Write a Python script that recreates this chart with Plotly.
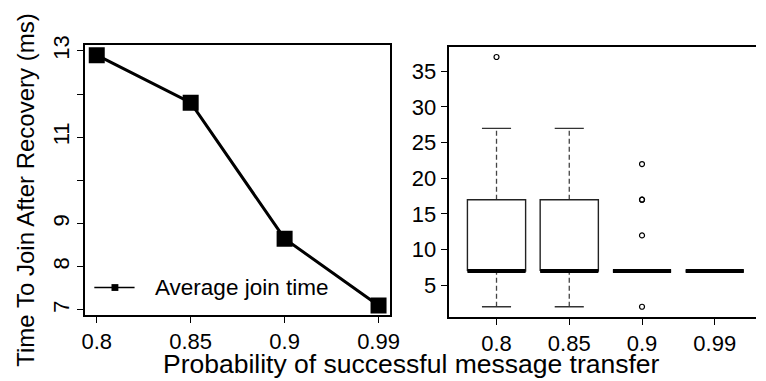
import plotly.graph_objects as go

# Probability of successful message transfer (shared category labels)
probs = ["0.8", "0.85", "0.9", "0.99"]

# Left panel: average join time per probability (ms)
avg_join = [12.9, 11.8, 8.65, 7.1]
series_name = "Average join time"

# Right panel: box-plot summary statistics per probability (ms)
box_low = [2, 2, 7, 7]
box_q1 = [7, 7, 7, 7]
box_med = [7, 7, 7, 7]
box_q3 = [17, 17, 7, 7]
box_high = [27, 27, 7, 7]
outliers = [[37], [], [22, 17, 17, 12, 2], []]

W, H = 766, 381
FONT = "Liberation Sans, Arial, Helvetica, sans-serif"
pos = list(range(1, len(probs) + 1))


def px(x):
    return x / W


def py(y):
    return 1 - y / H


fig = go.Figure()

# ---- left panel: line with square markers
fig.add_trace(go.Scatter(
    x=pos, y=avg_join, mode="lines+markers", name=series_name,
    line=dict(color="black", width=3),
    marker=dict(symbol="square", size=16, color="black"),
    showlegend=False, xaxis="x", yaxis="y",
))

# ---- right panel: boxes built from the summary statistics
half = 0.4
bx, by, mx, my, wx, wy, sx, sy, ox, oy = [], [], [], [], [], [], [], [], [], []
for i, p in enumerate(pos):
    bx += [p - half, p + half, p + half, p - half, p - half, None]
    by += [box_q1[i], box_q1[i], box_q3[i], box_q3[i], box_q1[i], None]
    mx += [p - half, p + half, None]
    my += [box_med[i], box_med[i], None]
    wx += [p, p, None, p, p, None]
    wy += [box_low[i], box_q1[i], None, box_q3[i], box_high[i], None]
    sx += [p - half / 2, p + half / 2, None, p - half / 2, p + half / 2, None]
    sy += [box_low[i], box_low[i], None, box_high[i], box_high[i], None]
    for v in outliers[i]:
        ox.append(p)
        oy.append(v)

common = dict(xaxis="x2", yaxis="y2", showlegend=False, hoverinfo="skip")
fig.add_trace(go.Scatter(x=wx, y=wy, mode="lines",
                         line=dict(color="#444444", width=1.3, dash="5px,3px"), **common))
fig.add_trace(go.Scatter(x=sx, y=sy, mode="lines",
                         line=dict(color="#333333", width=1.3), **common))
fig.add_trace(go.Scatter(x=bx, y=by, mode="lines",
                         line=dict(color="#222222", width=1.4), **common))
fig.add_trace(go.Scatter(x=mx, y=my, mode="lines",
                         line=dict(color="black", width=4), **common))
fig.add_trace(go.Scatter(x=ox, y=oy, mode="markers",
                         marker=dict(symbol="circle-open", size=5, color="black",
                                     line=dict(width=1.2)), **common))

tickfont = dict(family=FONT, size=22, color="black")
axis_common = dict(showgrid=False, zeroline=False, showline=True, linecolor="black",
                   linewidth=2, ticks="outside", ticklen=6, tickwidth=1,
                   tickcolor="black", tickfont=tickfont)

# legend drawn by hand inside the left panel (line, small square, label)
leg_y = 285
shapes = [
    dict(type="line", xref="paper", yref="paper", x0=px(92), x1=px(133),
         y0=py(leg_y), y1=py(leg_y), line=dict(color="black", width=1.5)),
    dict(type="rect", xref="paper", yref="paper", x0=px(109.5), x1=px(116.5),
         y0=py(leg_y + 3.5), y1=py(leg_y - 3.5), fillcolor="black",
         line=dict(width=0)),
]

fig.update_layout(
    width=W, height=H, margin=dict(l=0, r=0, t=0, b=0),
    paper_bgcolor="white", plot_bgcolor="white", showlegend=False,
    xaxis=dict(domain=[px(83), px(393)], range=[0.88, 4.12],
               tickvals=pos, ticktext=probs, mirror=True, anchor="y", **axis_common),
    yaxis=dict(domain=[py(313), py(36)], range=[6.887, 13.135],
               tickvals=[7, 8, 9, 10, 11, 12, 13],
               ticktext=["7", "8", "9", "", "11", "", "13"],
               tickangle=-90, mirror=True, anchor="x", **axis_common),
    xaxis2=dict(domain=[px(453), 1.0], range=[0.343, 4.567],
                tickvals=pos, ticktext=probs, mirror=True, anchor="y2", **axis_common),
    yaxis2=dict(domain=[py(315), py(38)], range=[0.6, 38.4],
                tickvals=[5, 10, 15, 20, 25, 30, 35], anchor="x2", **axis_common),
    shapes=shapes,
    annotations=[
        dict(text=series_name, xref="paper", yref="paper",
             x=px(152), y=py(leg_y), xanchor="left", yanchor="middle", showarrow=False,
             font=dict(family=FONT, size=22.5, color="black")),
        dict(text="Probability of successful message transfer", xref="paper", yref="paper",
             x=px(415), y=0, xanchor="center", yanchor="bottom", showarrow=False,
             font=dict(family=FONT, size=26.5, color="black")),
        dict(text="Time To Join After Recovery (ms)", xref="paper", yref="paper",
             x=px(22), y=py(185), xanchor="center", yanchor="middle", showarrow=False,
             textangle=-90, font=dict(family=FONT, size=24, color="black")),
    ],
)

fig.write_html("out.html")
